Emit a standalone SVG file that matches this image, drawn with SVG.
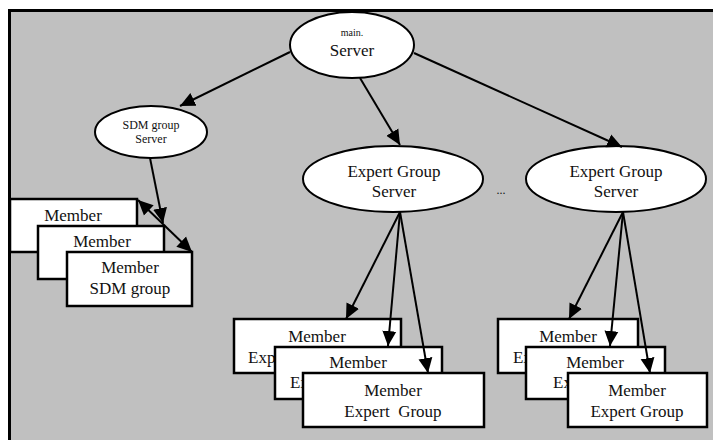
<svg xmlns="http://www.w3.org/2000/svg" width="713" height="440" viewBox="0 0 713 440">
<style>
.node{fill:#fff;stroke:#000;stroke-width:2}
.box{fill:#fff;stroke:#000;stroke-width:2.5}
.t{font-family:"Liberation Serif","Times New Roman",serif;font-size:17px;fill:#111;text-anchor:middle}
.ts{font-family:"Liberation Serif","Times New Roman",serif;font-size:12px;fill:#111;text-anchor:middle}
.tl{font-family:"Liberation Serif","Times New Roman",serif;font-size:17px;fill:#111;text-anchor:start}
.c{stroke:#000;stroke-width:2;fill:none;marker-end:url(#ah)}
</style>
<defs>
<marker id="ah" markerUnits="userSpaceOnUse" markerWidth="16" markerHeight="16" viewBox="0 0 16 16" refX="15" refY="8" orient="auto-start-reverse">
<path d="M0,1 L15,8 L0,15 Z" fill="#000"/>
</marker>
</defs>
<rect x="9.5" y="10.5" width="710" height="440" fill="#c0c0c0" stroke="#000" stroke-width="3"/>

<g id="main-server">
<ellipse class="node" cx="352" cy="45" rx="62" ry="33"/>
<text class="t" x="352" y="36" style="font-size:10px">main.</text>
<text class="t" x="352" y="56">Server</text>
</g>
<g id="sdm-server">
<ellipse class="node" cx="151" cy="132" rx="56" ry="26"/>
<text class="ts" x="151" y="129">SDM group</text>
<text class="ts" x="151" y="143">Server</text>
</g>
<g id="expert-server-1">
<ellipse class="node" cx="393" cy="179" rx="90" ry="33"/>
<text class="t" x="394" y="177">Expert Group</text>
<text class="t" x="394" y="197">Server</text>
</g>
<text class="ts" x="501" y="194">...</text>
<g id="expert-server-2">
<ellipse class="node" cx="616" cy="179" rx="90" ry="33"/>
<text class="t" x="616" y="177">Expert Group</text>
<text class="t" x="616" y="197">Server</text>
</g>

<g id="sdm-member-1">
<rect class="box" x="10" y="199" width="127" height="53"/>
<text class="t" x="73" y="221">Member</text>
</g>
<g id="sdm-member-2">
<rect class="box" x="38" y="226" width="126" height="53"/>
<text class="t" x="102" y="247">Member</text>
</g>
<g id="sdm-member-3">
<rect class="box" x="67" y="252" width="125" height="54"/>
<text class="t" x="130" y="273">Member</text>
<text class="t" x="130" y="294">SDM group</text>
</g>

<g id="expert1-member-1">
<rect class="box" x="234" y="319" width="167" height="54"/>
<text class="t" x="317" y="342">Member</text>
<text class="tl" x="248" y="363">Exp</text>
</g>
<g id="expert1-member-2">
<rect class="box" x="275" y="347" width="167" height="52"/>
<text class="t" x="358" y="368">Member</text>
<text class="tl" x="290" y="388">Ex</text>
</g>
<g id="expert1-member-3">
<rect class="box" x="303" y="373" width="181" height="54"/>
<text class="t" x="393" y="396">Member</text>
<text class="t" x="393" y="417" xml:space="preserve">Expert  Group</text>
</g>

<g id="expert2-member-1">
<rect class="box" x="498" y="319" width="140" height="54"/>
<text class="t" x="568" y="342">Member</text>
<text class="tl" x="513" y="363">Ex</text>
</g>
<g id="expert2-member-2">
<rect class="box" x="526" y="347" width="139" height="52"/>
<text class="t" x="595" y="368">Member</text>
<text class="tl" x="553" y="388">Ex</text>
</g>
<g id="expert2-member-3">
<rect class="box" x="568" y="373" width="139" height="54"/>
<text class="t" x="637" y="396">Member</text>
<text class="t" x="637" y="417">Expert Group</text>
</g>

<g id="connectors">
<line class="c" x1="290" y1="52" x2="180" y2="106"/>
<line class="c" x1="360" y1="78" x2="400" y2="145"/>
<line class="c" x1="414" y1="53" x2="622" y2="147"/>
<line class="c" x1="150" y1="158" x2="163" y2="223"/>
<line class="c" x1="138" y1="200" x2="192" y2="252" style="marker-start:url(#ah)"/>
<line class="c" x1="400" y1="212" x2="346" y2="319"/>
<line class="c" x1="400" y1="212" x2="388" y2="346"/>
<line class="c" x1="400" y1="212" x2="428" y2="373"/>
<line class="c" x1="623" y1="212" x2="569" y2="319"/>
<line class="c" x1="623" y1="212" x2="610" y2="346"/>
<line class="c" x1="623" y1="212" x2="650" y2="373"/>
</g>
</svg>
